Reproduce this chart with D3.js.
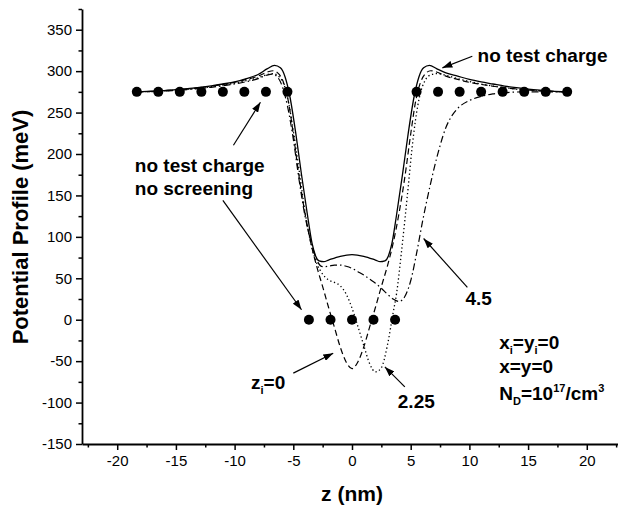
<!DOCTYPE html>
<html>
<head>
<meta charset="utf-8">
<script src="https://cdn.jsdelivr.net/npm/d3@7"></script>
<style>
  body { margin: 0; background: #fff; }
  svg { display: block; }
  text { font-family: "Liberation Sans", Arial, Helvetica, sans-serif; fill: #000; }
</style>
</head>
<body>
<div id="chart"></div>
<script>
var svgWidth = 618;
var svgHeight = 508;

// no test charge (solid line)
var solidZ = [-18.33,-17,-16,-15,-14,-13,-12,-11,-10,-9,-8,-7.2,-6.6,-6.1,-5.7,-5.3,-4.8,-4.3,-3.8,-3.4,-3.1,-2.8,-2.4,-2,-1,0,1,2,2.4,2.8,3.1,3.4,3.8,4.3,4.8,5.3,5.7,6.1,6.6,7.2,8,9,10,11,12,13,14,15,16,17,18.33];
var solidV = [275,275.8,276.6,277.6,279,280.5,282.3,284.5,287,291,296,303,307,304,293,270,226,175,127,92,77,71,70,72,76.5,78.5,76.5,72,70,71,77,92,127,175,226,270,293,304,307,303,298,294,290,287,284.5,282,280,278.3,277,276,275];

// test charge at zi = 0 (dashed line)
var dashZ = [-18.33,-17,-16,-15,-14,-13,-12,-11,-10,-9,-8,-7.2,-6.7,-6.2,-5.8,-5.4,-5,-4.5,-4,-3.5,-3,-2.5,-2,-1.5,-1,-0.5,0,0.5,1,1.5,2,2.5,3,3.5,4,4.5,5,5.4,5.8,6.2,6.7,7.2,8,9,10,11,12,13,14,15,16,17,18.33];
var dashV = [275,275.6,276.3,277.2,278.5,280,281.8,284,286.5,290,294,299,300.5,296,285,262,224,172,128,92,64,40,15,-9,-33,-51,-59,-51,-33,-9,15,40,64,92,128,172,224,262,285,296,300.5,299,294,290,286.5,284,281.8,280,278.5,277.2,276.3,275.6,275];

// test charge at zi = 2.25 (dotted line)
var dotZ = [-18.33,-17,-16,-15,-14,-13,-12,-11,-10,-9,-8,-7.2,-6.7,-6.2,-5.8,-5.4,-5,-4.5,-4,-3.5,-3,-2.5,-2,-1.5,-1,-0.5,0,0.5,1,1.5,2,2.5,3,3.5,3.8,4.2,4.5,4.8,5.1,5.4,5.8,6.2,6.7,7.2,8,9,10,11,12,13,14,15,16,17,18.33];
var dotV = [275,275.5,276.2,277,278.2,279.6,281.2,283.2,285.5,288.5,292,296,297,293,284,262,228,180,130,92,68,55,48,45,41,31,14,-8,-31,-53,-63,-58,-32,8,32,80,120,162,205,240,272,288,295.5,297,295,291,287.5,284.5,282,280,278.2,277,276.2,275.5,275];

// test charge at zi = 4.5 (dash-dot line)
var ddZ = [-18.33,-17,-16,-15,-14,-13,-12,-11,-10,-9,-8,-7.3,-6.8,-6.3,-5.9,-5.5,-5,-4.5,-4,-3.5,-3,-2.5,-2,-1.5,-1,-0.5,0,0.5,1,1.5,2,2.5,3,3.5,4,4.5,5,5.5,6,6.5,7,7.5,8,8.5,9,10,11,12,13,14,15,16,17,18.33];
var ddV = [275,275.4,276,276.8,277.8,279,280.5,282.3,284.5,287.3,291,295,296.5,292,280,258,218,168,125,95,72,64,64.5,66,66,64.5,62,58,54,49,44,38,31,25,22,28,47,80,118,152,183,210,232,246,255,264.5,269.5,272.5,274,274.8,275,275,275,275];

// no test charge, no screening (symbols)
var symZ = [-18.33,-16.5,-14.67,-12.83,-11,-9.17,-7.33,-5.5,-3.67,-1.83,0,1.83,3.67,5.5,7.33,9.17,11,12.83,14.67,16.5,18.33];
var symV = [275,275,275,275,275,275,275,275,0,0,0,0,0,275,275,275,275,275,275,275,275];

var yTicks = [-150,-100,-50,0,50,100,150,200,250,300,350];
var yMinor = [-125,-75,-25,25,75,125,175,225,275,325,375];
var xTicks = [-20,-15,-10,-5,0,5,10,15,20];
var xMinor = [-22.5,-17.5,-12.5,-7.5,-2.5,2.5,7.5,12.5,17.5,22.5];

var svg = d3.select("#chart")
  .append("svg")
  .attr("width", svgWidth)
  .attr("height", svgHeight);

var x = d3.scaleLinear().domain([-23, 23]).range([82, 622]);
var y = d3.scaleLinear().domain([-150, 375]).range([444, 9]);

// arrow head
svg.append("defs").append("marker")
  .attr("id", "arrow")
  .attr("viewBox", "0 0 10 7")
  .attr("refX", 10)
  .attr("refY", 3.5)
  .attr("markerWidth", 10)
  .attr("markerHeight", 7)
  .attr("markerUnits", "userSpaceOnUse")
  .attr("orient", "auto")
  .append("path")
  .attr("d", "M0,0 L10,3.5 L0,7 Z")
  .attr("fill", "#000");

// axes
var fmt = function(d) { return String(d); };

svg.append("g")
  .attr("transform", "translate(" + x.range()[0] + ",0)")
  .call(d3.axisLeft(y).tickValues(yTicks).tickFormat(fmt).tickSize(6).tickSizeOuter(0).tickPadding(4));
svg.append("g")
  .attr("transform", "translate(" + x.range()[0] + ",0)")
  .call(d3.axisLeft(y).tickValues(yMinor).tickFormat("").tickSize(3.5).tickSizeOuter(0))
  .select(".domain").remove();

svg.append("g")
  .attr("transform", "translate(0," + y.range()[0] + ")")
  .call(d3.axisBottom(x).tickValues(xTicks).tickFormat(fmt).tickSize(6).tickSizeOuter(0).tickPadding(5));
svg.append("g")
  .attr("transform", "translate(0," + y.range()[0] + ")")
  .call(d3.axisBottom(x).tickValues(xMinor).tickFormat("").tickSize(3.5).tickSizeOuter(0))
  .select(".domain").remove();

svg.selectAll(".domain").attr("stroke", "#000").attr("stroke-width", 1.8);
svg.selectAll(".tick line").attr("stroke", "#000").attr("stroke-width", 1.5);
svg.selectAll(".tick text").attr("font-size", 15).attr("font-family", "Liberation Sans, Arial, sans-serif").attr("fill", "#000");

// axis titles
svg.append("text")
  .attr("x", 352)
  .attr("y", 501)
  .attr("text-anchor", "middle")
  .attr("font-size", 21)
  .attr("font-weight", "bold")
  .text("z (nm)");

svg.append("text")
  .attr("transform", "translate(28,227) rotate(-90)")
  .attr("text-anchor", "middle")
  .attr("font-size", 22)
  .attr("font-weight", "bold")
  .text("Potential Profile (meV)");

// curves
var line = d3.line()
  .x(d => x(d[0]))
  .y(d => y(d[1]))
  .curve(d3.curveMonotoneX);

var series = [
  { z: solidZ, v: solidV, dash: null, w: 1.3 },
  { z: dashZ, v: dashV, dash: "6,3.5", w: 1.2 },
  { z: dotZ, v: dotV, dash: "1.3,2.6", w: 1.3 },
  { z: ddZ, v: ddV, dash: "7,3,1.5,3", w: 1.2 }
];

series.forEach(function(s) {
  svg.append("path")
    .datum(d3.zip(s.z, s.v))
    .attr("d", line)
    .attr("fill", "none")
    .attr("stroke", "#000")
    .attr("stroke-width", s.w)
    .attr("stroke-dasharray", s.dash);
});

// symbols
svg.selectAll("circle.sym")
  .data(d3.zip(symZ, symV))
  .enter()
  .append("circle")
  .attr("class", "sym")
  .attr("cx", d => x(d[0]))
  .attr("cy", d => y(d[1]))
  .attr("r", 5)
  .attr("fill", "#000");

// annotations
function arrow(z1, v1, z2, v2) {
  svg.append("line")
    .attr("x1", x(z1)).attr("y1", y(v1))
    .attr("x2", x(z2)).attr("y2", y(v2))
    .attr("stroke", "#000")
    .attr("stroke-width", 1.2)
    .attr("marker-end", "url(#arrow)");
}

// parts: [text, shift] shift: 0 normal, 1 sub, -1 sup
function label(z, v, parts) {
  var t = svg.append("text")
    .attr("x", x(z))
    .attr("y", y(v))
    .attr("font-size", 19)
    .attr("font-weight", "bold");
  var cur = 0;
  parts.forEach(function(p) {
    var target = p[1] === 1 ? 5 : (p[1] === -1 ? -8 : 0);
    t.append("tspan")
      .attr("dy", target - cur)
      .attr("font-size", p[1] === 0 ? 19 : 11)
      .text(p[0]);
    cur = target;
  });
}

label(10.7, 310.7, [["no test charge", 0]]);
arrow(10.25, 318, 7.7, 304);

label(-18.5, 178, [["no test charge", 0]]);
label(-18.5, 150, [["no screening", 0]]);
arrow(-10.1, 210.6, -7.8, 262.5);
arrow(-11.0, 144, -4.3, 12);

label(-8.6, -84, [["z", 0], ["i", 1], ["=0", 0]]);
arrow(-5.0, -64.5, -1.6, -40.4);

label(3.9, -107, [["2.25", 0]]);
arrow(4.5, -81, 2.8, -57);

label(9.66, 17.5, [["4.5", 0]]);
arrow(9.83, 39, 6.1, 98);

label(12.54, -35.6, [["x", 0], ["i", 1], ["=y", 0], ["i", 1], ["=0", 0]]);
label(12.54, -64.6, [["x=y=0", 0]]);
label(12.54, -97, [["N", 0], ["D", 1], ["=10", 0], ["17", -1], ["/cm", 0], ["3", -1]]);
</script>
</body>
</html>
